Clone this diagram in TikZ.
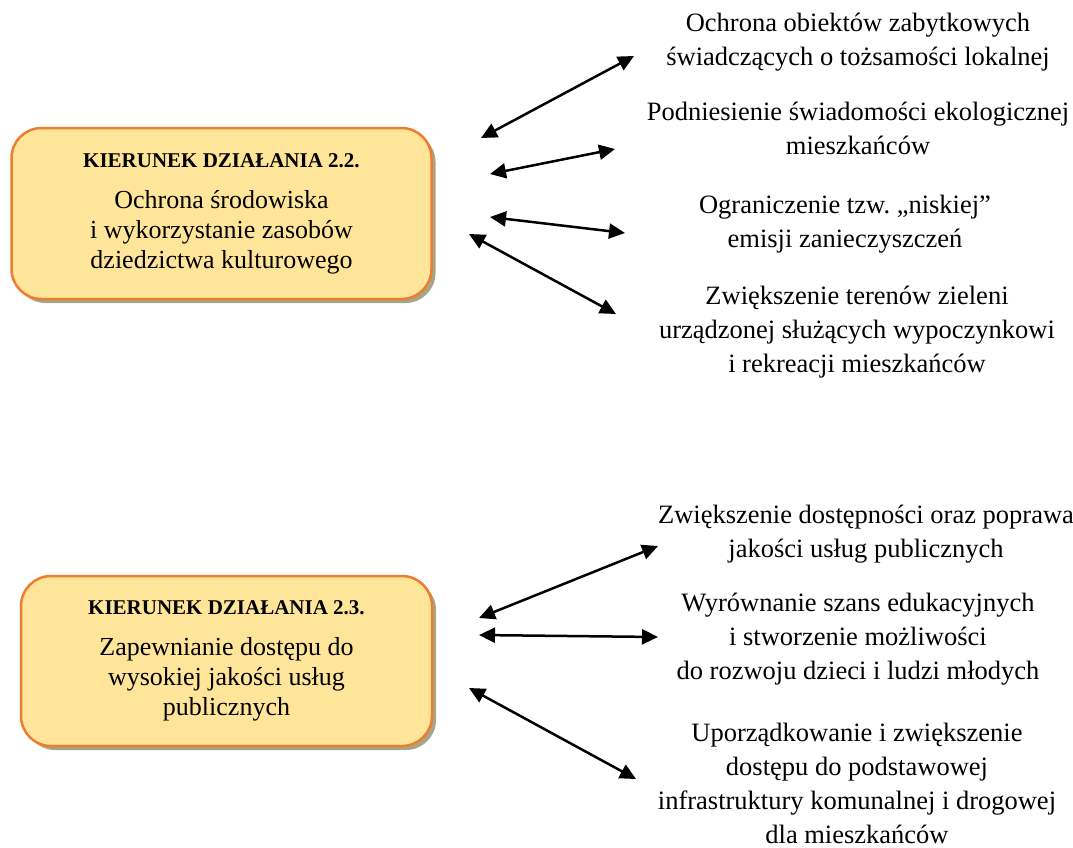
\documentclass[tikz,border=0pt]{standalone}
\usepackage{fontspec}
\setmainfont{Liberation Serif}
\usetikzlibrary{arrows.meta,shadows}
\definecolor{boxfill}{RGB}{255,229,153}
\definecolor{boxorange}{RGB}{237,125,49}
\definecolor{shadowgrey}{RGB}{165,165,135}
\begin{document}
\begin{tikzpicture}[x=1pt,y=-1pt,>={Triangle[length=16pt,width=15pt]}]
\tikzset{
  kierunek/.style={draw=boxorange,line width=2.5pt,fill=boxfill,rounded corners=30pt,align=center,
    font=\fontsize{26}{30}\selectfont,inner sep=0pt,
    drop shadow={shadow xshift=4pt,shadow yshift=-4pt,fill=shadowgrey,opacity=1}},
  cel/.style={align=center,font=\fontsize{26.5}{34}\selectfont,inner sep=0pt},
  link/.style={<->,line width=2.5pt}
}
\useasboundingbox (0,0) rectangle (1073,847);
% kierunki dzialania
\node[kierunek,minimum width=420pt,minimum height=171pt] (k22) at (221.5,213.5)
  {{\fontsize{21}{24}\selectfont\bfseries KIERUNEK DZIAŁANIA 2.2.}\\[11pt]
   Ochrona środowiska\\ i wykorzystanie zasobów\\ dziedzictwa kulturowego};
\node[kierunek,minimum width=411pt,minimum height=170pt] (k23) at (226.5,661)
  {{\fontsize{21}{24}\selectfont\bfseries KIERUNEK DZIAŁANIA 2.3.}\\[11pt]
   Zapewnianie dostępu do\\ wysokiej jakości usług\\ publicznych};
% cele
\node[cel] (c1) at (858,42) {Ochrona obiektów zabytkowych\\ świadczących o tożsamości lokalnej};
\node[cel] (c2) at (858,128) {Podniesienie świadomości ekologicznej\\ mieszkańców};
\node[cel] (c3) at (845,224) {Ograniczenie tzw.\ „niskiej”\\ emisji zanieczyszczeń};
\node[cel] (c4) at (857,332) {Zwiększenie terenów zieleni\\ urządzonej służących wypoczynkowi\\ i rekreacji mieszkańców};
\node[cel] (c5) at (866,534) {Zwiększenie dostępności oraz poprawa\\ jakości usług publicznych};
\node[cel] (c6) at (858,639) {Wyrównanie szans edukacyjnych\\ i stworzenie możliwości\\ do rozwoju dzieci i ludzi młodych};
\node[cel] (c7) at (857,783) {Uporządkowanie i zwiększenie\\ dostępu do podstawowej\\ infrastruktury komunalnej i drogowej\\ dla mieszkańców};
% konce strzalek
\coordinate (a1) at (481,138); \coordinate (b1) at (634,56);
\coordinate (a2) at (490,174); \coordinate (b2) at (615,149);
\coordinate (a3) at (490,217); \coordinate (b3) at (625,233);
\coordinate (a4) at (469,234); \coordinate (b4) at (616,314);
\coordinate (a5) at (479,618); \coordinate (b5) at (658,546);
\coordinate (a6) at (479,635); \coordinate (b6) at (658,637);
\coordinate (a7) at (469,688); \coordinate (b7) at (636,779);
\foreach \i in {1,...,7}
  \draw[link] (a\i) -- (b\i);
\end{tikzpicture}
\end{document}
